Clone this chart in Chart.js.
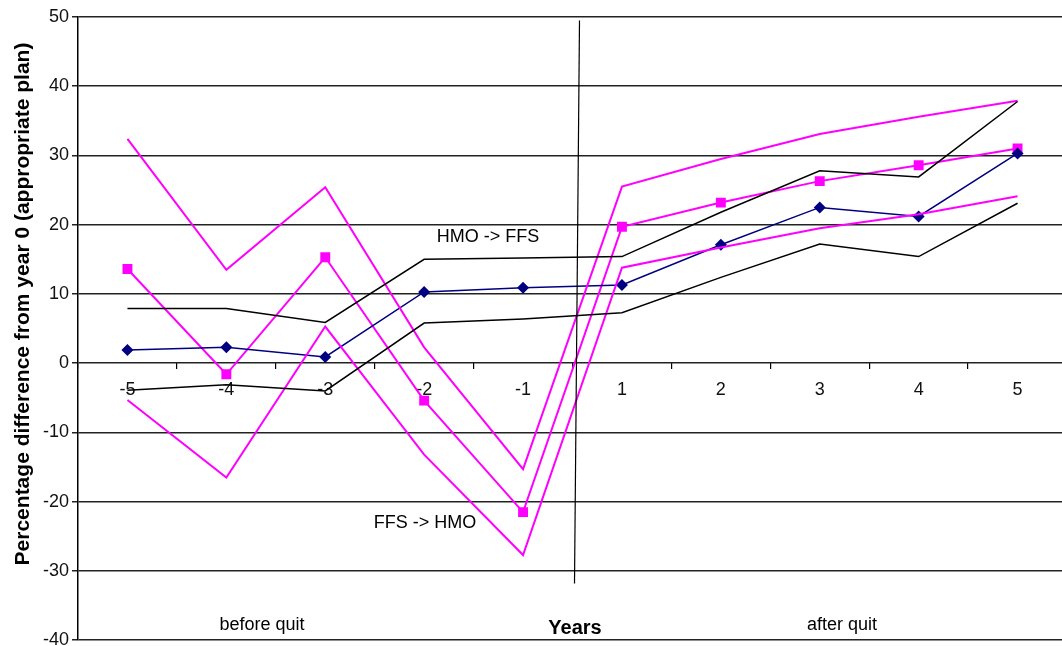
<!DOCTYPE html>
<html>
<head>
<meta charset="utf-8">
<script src="https://cdn.jsdelivr.net/npm/chart.js@4/dist/chart.umd.min.js"></script>
<style>
  html, body { margin: 0; padding: 0; background: #fff; overflow: hidden; }
  #wrap { position: relative; width: 1074px; height: 654px; }
</style>
</head>
<body>
<div id="wrap"><canvas id="chart"></canvas></div>
<script>
// years relative to quitting (no year 0)
const years = ['-5', '-4', '-3', '-2', '-1', '1', '2', '3', '4', '5'];

// HMO -> FFS: estimate with upper / lower bounds
const hmoFfs      = [1.9, 2.3, 0.9, 10.3, 10.9, 11.3, 17.1, 22.5, 21.2, 30.3];
const hmoFfsUpper = [7.9, 7.9, 5.9, 15.0, 15.2, 15.4, 21.8, 27.8, 26.9, 37.8];
const hmoFfsLower = [-3.9, -3.1, -4.0, 5.8, 6.4, 7.3, 12.4, 17.2, 15.4, 23.1];

// FFS -> HMO: estimate with upper / lower bounds
const ffsHmo      = [13.6, -1.6, 15.3, -5.4, -21.5, 19.7, 23.2, 26.3, 28.6, 31.0];
const ffsHmoUpper = [32.4, 13.5, 25.4, 2.3, -15.3, 25.5, 29.5, 33.1, 35.6, 37.9];
const ffsHmoLower = [-5.3, -16.5, 5.3, -13.2, -27.7, 13.8, 16.7, 19.5, 21.5, 24.1];

const yTicks = [-40, -30, -20, -10, 0, 10, 20, 30, 40, 50];

const FONT = 'Liberation Sans, Arial, sans-serif';

function bound(data, color, width) {
    return {
        data: data,
        borderColor: color,
        borderWidth: width,
        pointRadius: 0,
        tension: 0,
        fill: false
    };
}

// labels, axis title and the divider line drawn on top of the plot
const extras = {
    id: 'extras',
    afterDatasetsDraw(chart) {
        const { ctx } = chart;
        const x = chart.scales.x;
        const y = chart.scales.y;
        const divX = (x.getPixelForValue(4) + x.getPixelForValue(5)) / 2;

        ctx.save();
        ctx.strokeStyle = '#000';
        ctx.lineWidth = 1.2;
        ctx.beginPath();
        ctx.moveTo(divX + 7, y.getPixelForValue(49.5));
        ctx.lineTo(divX + 2, y.getPixelForValue(-31.8));
        ctx.stroke();

        ctx.fillStyle = '#000';
        ctx.textAlign = 'center';
        ctx.textBaseline = 'middle';
        ctx.font = '18px ' + FONT;
        ctx.fillText('HMO -> FFS', 488, 237);
        ctx.fillText('FFS -> HMO', 425, 523);
        ctx.fillText('before quit', 262, 625);
        ctx.fillText('after quit', 842, 625);
        ctx.font = 'bold 20px ' + FONT;
        ctx.fillText('Years', 575, 628);

        ctx.translate(23, 304);
        ctx.rotate(-Math.PI / 2);
        ctx.font = 'bold 21px ' + FONT;
        ctx.fillText('Percentage difference from year 0 (appropriate plan)', 0, 0);
        ctx.restore();
    }
};

new Chart(document.getElementById('chart'), {
    type: 'line',
    data: {
        labels: years,
        datasets: [
            bound(hmoFfsUpper, '#000000', 1.5),
            bound(hmoFfsLower, '#000000', 1.5),
            bound(ffsHmoUpper, '#ff00ff', 2),
            bound(ffsHmoLower, '#ff00ff', 2),
            {
                data: hmoFfs,
                borderColor: '#000080',
                backgroundColor: '#000080',
                borderWidth: 1.5,
                pointStyle: 'rectRot',
                pointRadius: 6,
                pointBorderWidth: 0,
                tension: 0
            },
            {
                data: ffsHmo,
                borderColor: '#ff00ff',
                backgroundColor: '#ff00ff',
                borderWidth: 2,
                pointStyle: 'rect',
                pointRadius: 7,
                pointBorderWidth: 0,
                tension: 0
            }
        ]
    },
    options: {
        responsive: true,
        maintainAspectRatio: false,
        animation: false,
        layout: { padding: { top: 17, bottom: 7, left: 0, right: 0 } },
        plugins: {
            legend: { display: false },
            tooltip: { enabled: false }
        },
        scales: {
            x: {
                type: 'category',
                position: { y: 0 },
                offset: true,
                border: { display: false },
                grid: {
                    offset: true,
                    drawOnChartArea: false,
                    drawTicks: true,
                    tickLength: 6,
                    color: '#000',
                    lineWidth: 1.2
                },
                ticks: {
                    color: '#111',
                    padding: 10,
                    maxRotation: 0,
                    font: { family: FONT, size: 18 }
                }
            },
            y: {
                min: -40,
                max: 50,
                afterBuildTicks(scale) {
                    scale.ticks = yTicks.map(v => ({ value: v }));
                },
                afterFit(scale) {
                    scale.width = 78;
                },
                border: { display: true, color: '#000', width: 1.5 },
                grid: {
                    color: '#222',
                    lineWidth: 1.5,
                    tickLength: 6
                },
                ticks: {
                    color: '#111',
                    padding: 3,
                    font: { family: FONT, size: 18 }
                }
            }
        }
    },
    plugins: [extras]
});
</script>
</body>
</html>
